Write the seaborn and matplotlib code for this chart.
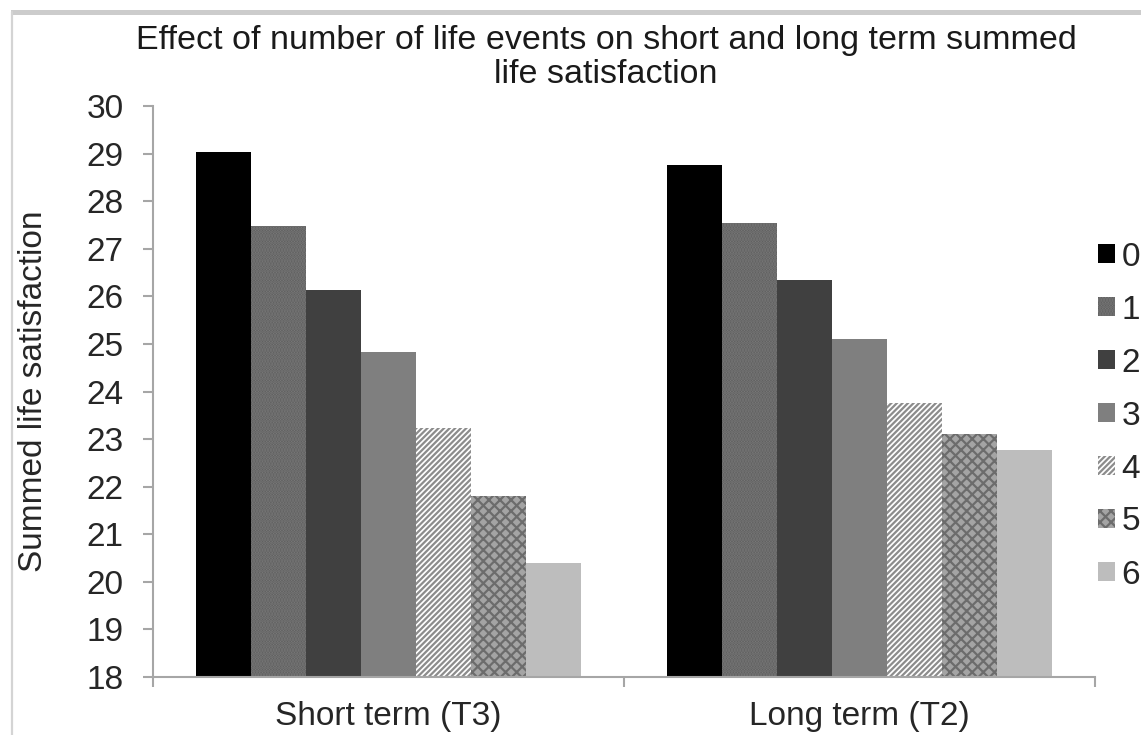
import matplotlib
matplotlib.use("Agg")
import matplotlib.pyplot as plt
from matplotlib.patches import Rectangle
from matplotlib.lines import Line2D
import seaborn as sns
import pandas as pd

# Data
periods = ["Short term (T3)", "Long term (T2)"]
event_counts = ["0", "1", "2", "3", "4", "5", "6"]
short_term = [29.04, 27.48, 26.13, 24.84, 23.24, 21.81, 20.40]
long_term = [28.76, 27.55, 26.35, 25.11, 23.76, 23.11, 22.78]
y_ticks = list(range(18, 31))

title_text = "Effect of number of life events on short and long term summed\nlife satisfaction"
y_label = "Summed life satisfaction"

face_colors = ["#000000", "#5a5a5a", "#404040", "#7f7f7f", "#ffffff", "#a4a4a4", "#bdbdbd"]
hatch_styles = [None, "......", None, None, "//////", "xxx", None]
hatch_colors = ["#000000", "#7a7a7a", "#404040", "#7f7f7f", "#8c8c8c", "#6c6c6c", "#bdbdbd"]

df = pd.DataFrame({
    "period": [p for p in periods for _ in event_counts],
    "events": event_counts * 2,
    "value": short_term + long_term,
})

sns.set_style("white")
plt.rcParams["font.family"] = ["Liberation Sans", "DejaVu Sans"]
plt.rcParams["hatch.linewidth"] = 1.6

fig = plt.figure(figsize=(11.41, 7.35), dpi=100)
ax = fig.add_axes([153 / 1141, 1 - 677 / 735, (1095 - 153) / 1141, (677 - 106) / 735])

sns.barplot(data=df, x="period", y="value", hue="events", order=periods,
            hue_order=event_counts, palette=face_colors, saturation=1,
            width=0.818, ax=ax, legend=False, linewidth=0)

for i, cont in enumerate(ax.containers):
    for bar in cont.patches:
        bar.set_facecolor(face_colors[i])
        if hatch_styles[i]:
            bar.set_hatch(hatch_styles[i])
            bar.set_edgecolor(hatch_colors[i])
        bar.set_linewidth(0)

ax.set_ylim(18, 30)
ax.set_xlim(-0.5, 1.5)
ax.set_yticks(y_ticks)
ax.set_xticks([0, 1], periods)
ax.set_xticks([-0.5, 0.5, 1.5], minor=True)
ax.set_xlabel("")
ax.set_ylabel(y_label, fontsize=24, labelpad=27)

for s in ["top", "right"]:
    ax.spines[s].set_visible(False)
for s in ["left", "bottom"]:
    ax.spines[s].set_color("#a6a6a6")
    ax.spines[s].set_linewidth(1.5)

ax.tick_params(axis="y", which="major", direction="out", length=7, width=1.5,
               color="#a6a6a6", labelsize=24, pad=14, left=True)
ax.tick_params(axis="x", which="major", length=0, labelsize=24, pad=17)
ax.tick_params(axis="x", which="minor", direction="out", length=7, width=1.5,
               color="#a6a6a6", bottom=True)

handles = [Rectangle((0, 0), 1, 1, facecolor=face_colors[i], hatch=hatch_styles[i],
                     edgecolor=hatch_colors[i], linewidth=0) for i in range(len(event_counts))]
fig.legend(handles, event_counts, loc="center left",
           bbox_to_anchor=(1098 / 1141, 1 - 416 / 735), frameon=False,
           fontsize=24, handlelength=0.5, handleheight=0.5, handletextpad=0.2,
           labelspacing=0.66, borderpad=0, borderaxespad=0)

fig.text(606 / 1141, 1 - 25 / 735, title_text, ha="center", va="top",
         fontsize=24.5, linespacing=1.12, color="#1a1a1a")

# outer frame lines
fig.add_artist(Rectangle((11 / 1141, 1 - 15 / 735), 1, 5 / 735,
                         transform=fig.transFigure, facecolor="#cccccc", edgecolor="none"))
fig.add_artist(Line2D([12 / 1141, 12 / 1141], [0, 1 - 12 / 735],
                      transform=fig.transFigure, color="#d4d4d4", linewidth=1.6))

fig.savefig("out.png", dpi=100)
